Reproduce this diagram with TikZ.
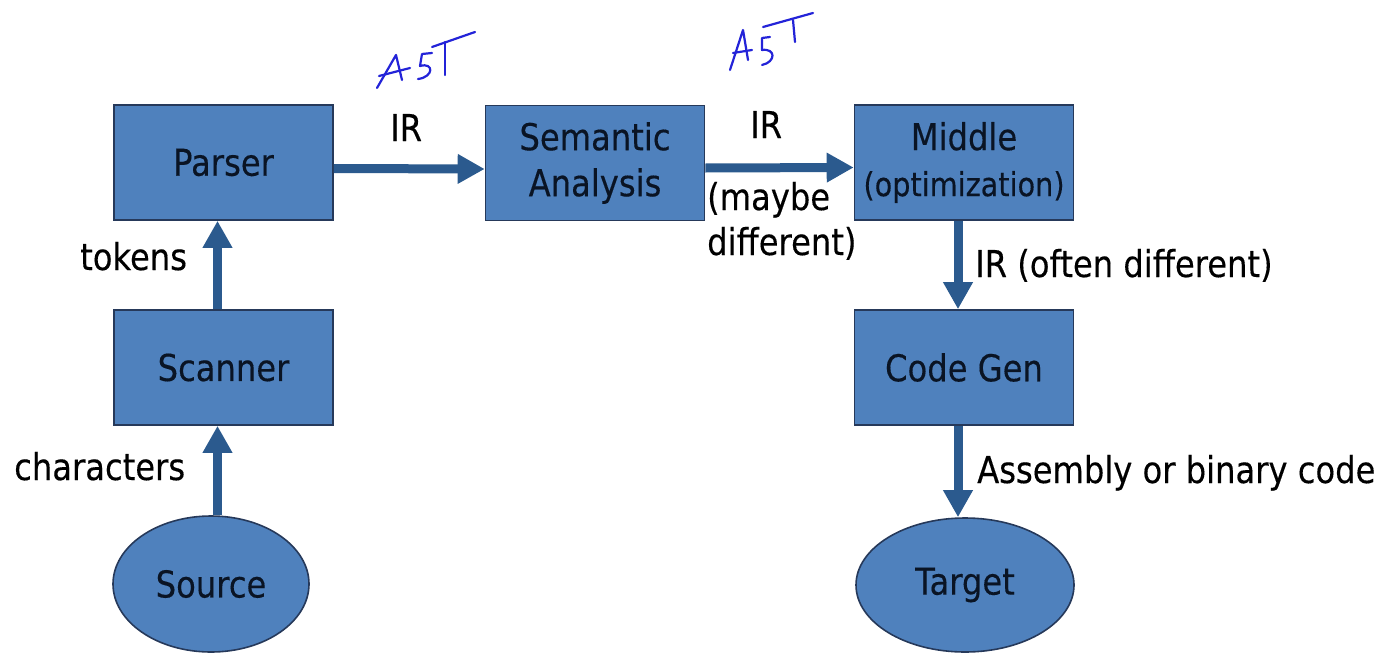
\documentclass[tikz,border=0pt]{standalone}
\usepackage{fontspec}
\setmainfont[FakeStretch=0.87,FakeBold=0.3]{DejaVu Sans}
\usetikzlibrary{arrows.meta,shapes.geometric,calc}
\definecolor{boxfill}{HTML}{4F81BD}
\definecolor{boxline}{HTML}{26395A}
\definecolor{arrowblue}{HTML}{2B5A8E}
\definecolor{boxtext}{HTML}{0A1424}
\definecolor{inkblue}{HTML}{2323D8}
\begin{document}
\begin{tikzpicture}[x=1pt,y=-1pt,
  stage/.style={draw=boxline, line width=1.6pt, fill=boxfill, minimum width=219pt,
    minimum height=115pt, inner sep=0pt, text=boxtext,
    font=\fontsize{37}{46}\selectfont, align=center},
  endpoint/.style={ellipse, draw=boxline, line width=1.6pt, fill=boxfill,
    inner sep=0pt, text=boxtext, font=\fontsize{37}{45}\selectfont},
  flow/.style={draw=arrowblue, line width=9pt, -{Triangle[width=28pt,length=27pt]}},
  lbl/.style={font=\fontsize{37}{45}\selectfont, inner sep=0pt, anchor=base west, text=black},
  ink/.style={draw=inkblue, line width=2.2pt, line cap=round, line join=round}]
\useasboundingbox (0,0) rectangle (1394,653);

% compiler stages
\node[stage] (parser) at (223.5,162.5) {Parser};
\node[stage] (scanner) at (223.5,367.5) {Scanner};
\node[endpoint, minimum width=196pt, minimum height=136pt] (source) at (211,584) {Source};
\node[stage] (sem) at (595,163) {Semantic\\Analysis};
\node[stage] (mid) at (964,162.5) {Middle\\{\fontsize{33}{40}\selectfont(optimization)}};
\node[stage] (gen) at (964,367.5) {Code Gen};
\node[endpoint, minimum width=218pt, minimum height=134pt] (target) at (965,585) {Target};

% arrow lanes, slightly left of the stage centres
\coordinate (lane1) at ($(scanner.south)+(-6,0)$);
\coordinate (lane2) at ($(gen.south)+(-6,0)$);

% data flow between stages
\draw[flow] ($(parser.east)+(0,6)$) -- ($(sem.west)+(0,6)$);
\draw[flow] ($(sem.east)+(0,5)$) -- ($(mid.west)+(0,5)$);
\draw[flow] ($(scanner.north)+(-6,0)$) -- ($(parser.south)+(-6,0)$);
\draw[flow] (source.north -| lane1) -- (lane1);
\draw[flow] ($(mid.south)+(-6,0)$) -- ($(gen.north)+(-6,0)$);
\draw[flow] (lane2) -- (target.north -| lane2);

% edge labels
\node[lbl] (ir1) at (390,141) {IR};
\node[lbl] (ir2) at (750,138) {IR};
\node[lbl] (maybe) at (707,210) {(maybe};
\node[lbl] (diff) at (707,255) {different)};
\node[lbl] (tokens) at (80,270) {tokens};
\node[lbl] (chars) at (14,480) {characters};
\node[lbl] (often) at (975,277) {IR (often different)};
\node[lbl] (asm) at (977,483) {Assembly or binary code};

% handwritten "AST" notes
\draw[ink] (377,88) -- (396,55) -- (402,80);
\draw[ink] (379,76) -- (410,68);
\draw[ink] (432,53) -- (422,54) -- (420,66) .. controls (434,62) and (434,77) .. (418,79);
\draw[ink] (432,47) -- (475,32);
\draw[ink] (445,42) -- (445,75);

\draw[ink] (730,70) -- (743,30) -- (748,60);
\draw[ink] (733,53) -- (752,50);
\draw[ink] (770,37) -- (762,38) -- (762,50) .. controls (776,48) and (776,62) .. (762,65);
\draw[ink] (763,27) -- (813,13);
\draw[ink] (793,20) -- (795,42);
\end{tikzpicture}
\end{document}
